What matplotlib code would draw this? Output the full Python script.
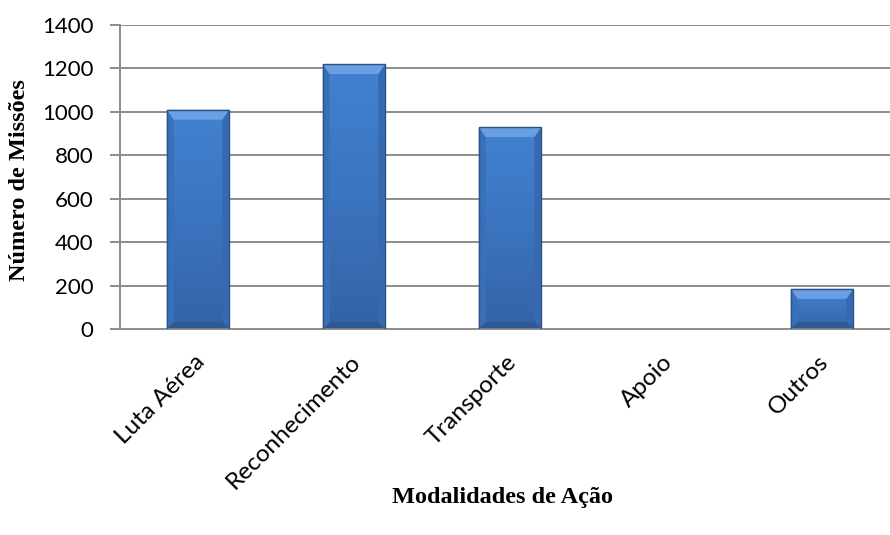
import matplotlib
matplotlib.use("Agg")
import matplotlib.pyplot as plt
import matplotlib.transforms as mtransforms
import numpy as np
from matplotlib.colors import LinearSegmentedColormap

categories = ["Luta Aérea", "Reconhecimento", "Transporte", "Apoio", "Outros"]
missions = [1010, 1220, 930, 0, 185]
yticks = [0, 200, 400, 600, 800, 1000, 1200, 1400]

W, H = 890, 535
fig = plt.figure(figsize=(W / 100, H / 100), dpi=100)
ax = fig.add_axes([120 / W, 1 - 329 / H, 780 / W, 304 / H])

x = np.arange(len(categories))
grid_c = "#8c8c8c"
for t in yticks[1:]:
    ax.axhline(t, color=grid_c, lw=1.4, zorder=1)

ax.set_xlim(-0.5, len(categories) - 0.5)
ax.set_ylim(0, 1400)

bars = ax.bar(x, missions, width=0.4, color="#3d7ac8", edgecolor="none",
              lw=0, zorder=2)

# vertical shading inside each bar: lighter near the top, darker at the base
cmap = LinearSegmentedColormap.from_list("body", ["#3463a6", "#3b74bf", "#4282d0"])
grad = np.linspace(0, 1, 128).reshape(-1, 1)
units_per_px = 1400 / 304
for b, v in zip(bars, missions):
    if v <= 0:
        continue
    x0 = b.get_x()
    w = b.get_width()
    x1 = x0 + w
    im = ax.imshow(grad, cmap=cmap, aspect="auto", zorder=2.2, origin="lower",
                   extent=[x0, x1, 0, v], interpolation="bicubic")
    im.set_clip_path(b)
    bx = w * 0.11
    by_top = min(10 * units_per_px, v * 0.25)
    by_bot = min(7 * units_per_px, v * 0.2)
    # top bevel
    ax.fill([x0, x1, x1 - bx, x0 + bx], [v, v, v - by_top, v - by_top],
            color="#6aa0e3", zorder=2.5, lw=0)
    # side bevels
    ax.fill([x0, x0 + bx, x0 + bx, x0], [v, v - by_top, by_bot, 0],
            color="#3a70b8", zorder=2.4, lw=0)
    ax.fill([x1, x1 - bx, x1 - bx, x1], [v, v - by_top, by_bot, 0],
            color="#3669ad", zorder=2.4, lw=0)
    # bottom bevel
    ax.fill([x0, x1, x1 - bx, x0 + bx], [0, 0, by_bot, by_bot],
            color="#2f5994", zorder=2.5, lw=0)
    ax.add_patch(plt.Rectangle((x0, 0), w, v, fill=False,
                               edgecolor="#2a5286", lw=1.0, zorder=2.7))

ax.set_yticks(yticks)
ax.set_xticks(x)
ax.set_xticklabels([])
for lab in ax.get_yticklabels():
    lab.set_fontsize(16)
    lab.set_family("Lato")

# rotated category names below the axis
lab_tr = ax.get_xaxis_transform() + mtransforms.ScaledTranslation(
    -4 / 100, -22 / 100, fig.dpi_scale_trans)
for xi, name in zip(x, categories):
    ax.text(xi, 0, name, transform=lab_tr, rotation=45, ha="right", va="top",
            rotation_mode="anchor", fontsize=17.5, family="Lato")

for s in ["top", "right"]:
    ax.spines[s].set_visible(False)
ax.spines["left"].set_color(grid_c)
ax.spines["bottom"].set_color(grid_c)
ax.spines["left"].set_linewidth(1.4)
ax.spines["bottom"].set_linewidth(1.4)
ax.tick_params(axis="y", length=7, width=1.4, color=grid_c, pad=12)
ax.tick_params(axis="x", length=0)

fig.text(20 / W, 1 - 180 / H, "Número de Missões", rotation=90, ha="center",
         va="center", fontsize=17.5, fontweight="bold", family="Liberation Serif")
fig.text(502 / W, 1 - 497 / H, "Modalidades de Ação", ha="center", va="center",
         fontsize=17.5, fontweight="bold", family="Liberation Serif")

fig.savefig("out.png", dpi=100)
